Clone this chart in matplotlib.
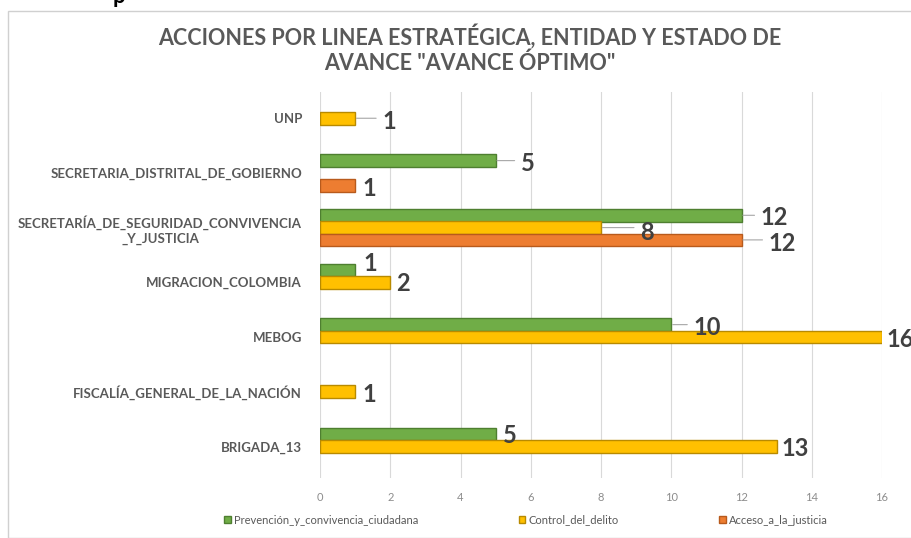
import numpy as np
import matplotlib.pyplot as plt
from matplotlib.patches import Rectangle

plt.rcParams['font.family'] = ['Lato', 'DejaVu Sans']

# entities listed top to bottom, as they appear in the chart
entities = ["UNP",
            "SECRETARIA_DISTRITAL_DE_GOBIERNO",
            "SECRETARÍA_DE_SEGURIDAD_CONVIVENCIA\n_Y_JUSTICIA",
            "MIGRACION_COLOMBIA",
            "MEBOG",
            "FISCALÍA_GENERAL_DE_LA_NACIÓN",
            "BRIGADA_13"]
prevencion = [0, 5, 12, 1, 10, 0, 5]
control = [1, 0, 8, 2, 16, 1, 13]
acceso = [0, 1, 12, 0, 0, 0, 0]

series_names = ["Prevención_y_convivencia_ciudadana", "Control_del_delito", "Acceso_a_la_justicia"]
colors = ["#70AD47", "#FFC000", "#ED7D31"]
edges = ["#4E7F30", "#B88A00", "#B85A1C"]

# label placement tweaks (pixels): (dx from bar end, dy, leader line)
label_pos = {
    (0, 1): (27, -3, True),
    (1, 0): (25, -3, True), (1, 2): (7, -3, False),
    (2, 0): (19, -2, True), (2, 1): (39, -5, True), (2, 2): (27, -4, True),
    (3, 0): (8, 6, False), (3, 1): (6, -1, False),
    (4, 0): (22, -3, True), (4, 1): (4, -3, False),
    (5, 1): (7, -3, False),
    (6, 0): (7, -2, False), (6, 1): (5, -2, False),
}

fig = plt.figure(figsize=(9.11, 5.38), dpi=100)
fig.patches.append(Rectangle((8 / 911, 0), 1, 1 - 11 / 538, transform=fig.transFigure,
                             fill=False, edgecolor="#d0d0d0", lw=1.0))
fig.text(113 / 911, 1 - 3 / 538, "p", fontsize=16, fontweight="bold", color="black",
         ha="left", va="baseline")

ax = fig.add_axes([320 / 911, 1 - 478 / 538, 562 / 911, 386 / 538])

n = len(entities)
y = np.arange(n)[::-1]
h = 0.225
offsets = [h, 0, -h]
data = [prevencion, control, acceso]

for s, vals in enumerate(data):
    vals = np.array(vals)
    keep = vals > 0
    ax.barh(y[keep] + offsets[s], vals[keep], height=0.23, color=colors[s],
            edgecolor=edges[s], linewidth=1.0, label=series_names[s], zorder=3)

for s, vals in enumerate(data):
    for i, v in enumerate(vals):
        if v == 0:
            continue
        dx, dy, leader = label_pos.get((i, s), (6, -2, False))
        yy = y[i] + offsets[s]
        ax.annotate(str(v), xy=(v, yy), xytext=(dx * 0.72, dy * 0.72),
                    textcoords="offset points", ha="left", va="center",
                    fontsize=17, fontweight="bold", color="#404040",
                    annotation_clip=False, zorder=5)
        if leader:
            ax.annotate("", xy=(v, yy), xytext=((dx - 6) * 0.72, 0),
                        textcoords="offset points",
                        arrowprops=dict(arrowstyle="-", color="#a6a6a6", lw=0.8,
                                        shrinkA=0, shrinkB=1),
                        annotation_clip=False, zorder=4)

ax.set_xlim(0, 16)
ax.set_ylim(-0.58, 6.48)
ax.set_xticks(np.arange(0, 17, 2))
ax.set_yticks(y)
ax.set_yticklabels(entities, fontsize=9.5, fontweight="bold", color="#595959",
                   multialignment="center", linespacing=1.3)
ax.tick_params(axis="y", length=0, pad=13)
ax.tick_params(axis="x", length=0, pad=10, labelsize=8, labelcolor="#8c8c8c")
ax.grid(axis="x", color="#d9d9d9", lw=0.8, zorder=0)
for sp in ax.spines.values():
    sp.set_visible(False)

fig.text(0.516, 1 - 49 / 538, "ACCIONES POR LINEA ESTRATÉGICA, ENTIDAD Y ESTADO DE\nAVANCE \"AVANCE ÓPTIMO\"",
         ha="center", va="center", fontsize=15.5, fontweight="bold", color="#595959",
         linespacing=1.25)

fig.legend(loc="center", bbox_to_anchor=(526 / 911, 1 - 520 / 538), ncol=3, frameon=False,
           fontsize=8, labelcolor="#595959", handlelength=0.6, handleheight=0.6,
           handletextpad=0.3, columnspacing=9)

fig.savefig("out.png", dpi=100)
